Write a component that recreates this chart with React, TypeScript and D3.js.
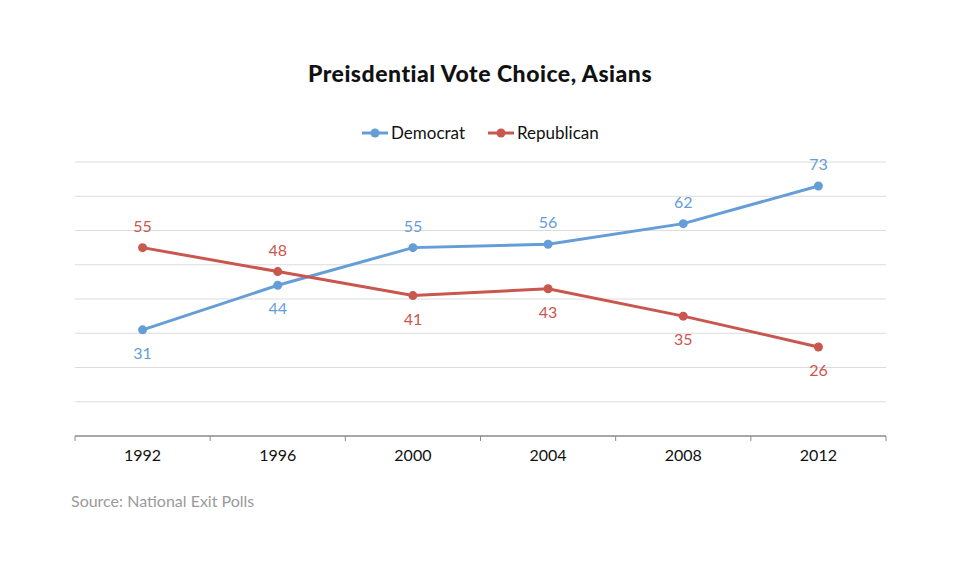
import React from "react"
import { scaleBand, scaleLinear, line, range } from "d3"

const years = ["1992", "1996", "2000", "2004", "2008", "2012"]
const democrat = [31, 44, 55, 56, 62, 73]
const republican = [55, 48, 41, 43, 35, 26]
// label above (-1) or below (+1) the point
const demLabelSide = [1, 1, -1, -1, -1, -1]
const repLabelSide = [-1, -1, 1, 1, 1, 1]
const yTicks = range(10, 90, 10)

const BLUE = "#659ed6"
const RED = "#c9564f"
const FONT = "Lato, 'Noto Sans', sans-serif"

export default function App() {
  const width = 960
  const height = 568
  const left = 75
  const right = 886
  const top = 162
  const bottom = 436

  const x = scaleBand().domain(years).range([left, right]).padding(0)
  const y = scaleLinear().domain([0, 80]).range([bottom, top])
  const cx = (d: string) => x(d)! + x.bandwidth() / 2

  const path = line<number>()
    .x((_, i) => cx(years[i]))
    .y((v) => y(v))

  const series = [
    { name: "Democrat", values: democrat, color: BLUE, sides: demLabelSide },
    { name: "Republican", values: republican, color: RED, sides: repLabelSide },
  ]

  return (
    <svg
      width={width}
      height={height}
      style={{ position: "absolute", left: 0, top: 0, background: "#fff" }}
      fontFamily={FONT}
    >
      <text x={480} y={82} textAnchor="middle" fontSize={23} fontWeight={900} letterSpacing={0.5} fill="#111">
        Preisdential Vote Choice, Asians
      </text>

      {/* legend */}
      {[
        { name: "Democrat", color: BLUE, x0: 362 },
        { name: "Republican", color: RED, x0: 488 },
      ].map((l) => (
        <g key={l.name}>
          <line x1={l.x0} x2={l.x0 + 26} y1={133} y2={133} stroke={l.color} strokeWidth={3} />
          <circle cx={l.x0 + 13} cy={133} r={4.5} fill={l.color} />
          <text x={l.x0 + 29} y={139} fontSize={17} fill="#111">
            {l.name}
          </text>
        </g>
      ))}

      {/* grid */}
      {yTicks.map((t) => (
        <line key={t} x1={left} x2={right} y1={y(t)} y2={y(t)} stroke="#dcdcdc" strokeWidth={1} />
      ))}

      {/* x axis */}
      <line x1={left} x2={right} y1={bottom} y2={bottom} stroke="#8a8a8a" strokeWidth={1.5} />
      {[...years.map((d) => x(d)!), right].map((px, i) => (
        <line key={i} x1={px} x2={px} y1={bottom} y2={bottom + 5} stroke="#8a8a8a" strokeWidth={1} />
      ))}
      {years.map((d) => (
        <text key={d} x={cx(d)} y={461} textAnchor="middle" fontSize={16} fill="#111">
          {d}
        </text>
      ))}

      {/* series */}
      {series.map((s) => (
        <g key={s.name}>
          <path d={path(s.values)!} fill="none" stroke={s.color} strokeWidth={3} />
          {s.values.map((v, i) => (
            <circle key={i} cx={cx(years[i])} cy={y(v)} r={4.5} fill={s.color} />
          ))}
          {s.values.map((v, i) => (
            <text
              key={"l" + i}
              x={cx(years[i])}
              y={y(v) + (s.sides[i] < 0 ? -16 : 29)}
              textAnchor="middle"
              fontSize={16}
              fill={s.color}
            >
              {v}
            </text>
          ))}
        </g>
      ))}

      <text x={71} y={507} fontSize={16} fill="#9a9a9a">
        Source: National Exit Polls
      </text>
    </svg>
  )
}
